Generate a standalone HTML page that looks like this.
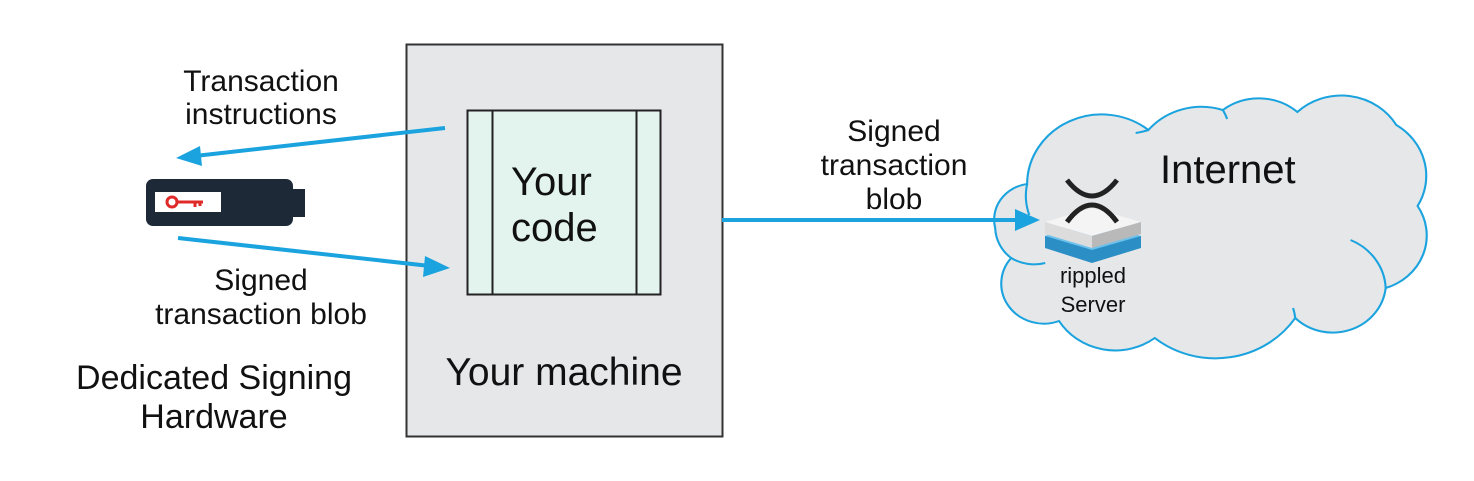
<!DOCTYPE html>
<html><head><meta charset="utf-8"><style>
html,body{margin:0;padding:0;background:#fff;}
svg{display:block;font-family:"Liberation Sans",sans-serif;}
</style></head><body>
<svg width="1474" height="481" viewBox="0 0 1474 481" xmlns="http://www.w3.org/2000/svg">
<!-- machine -->
<rect x="406.5" y="44.5" width="316" height="392" fill="#e6e7e9" stroke="#333" stroke-width="2"/>
<rect x="467.5" y="110.5" width="193" height="184" fill="#e3f4ee" stroke="#222" stroke-width="2"/>
<line x1="492.5" y1="110" x2="492.5" y2="294" stroke="#222" stroke-width="2"/>
<line x1="636.5" y1="110" x2="636.5" y2="294" stroke="#222" stroke-width="2"/>
<text x="511" y="195" font-size="40" fill="#111">Your</text>
<text x="511" y="241" font-size="40" fill="#111">code</text>
<text x="564" y="385" font-size="39" fill="#111" text-anchor="middle">Your machine</text>
<!-- cloud -->
<g transform="translate(-72,-12) scale(1.064,1)">
<path d="M1033,196 A36,36 0 0 0 1003,240 A40,40 0 0 0 1018,270 A40,40 0 0 0 1063,333 A62,62 0 0 0 1153,350 A90,90 0 0 0 1285,330 A50,50 0 0 0 1370,300 A55,55 0 0 0 1400,218 A60,60 0 0 0 1380,137 A60,60 0 0 0 1287,124 A55,55 0 0 0 1217,122 A65,65 0 0 0 1147,142 A70,70 0 0 0 1033,196 Z" fill="#e6e7e9" stroke="#1aa3de" stroke-width="2"/>
<path d="M1033,196 A60,60 0 0 0 1035,227" fill="none" stroke="#1aa3de" stroke-width="2"/>
<path d="M1018,270 A40,40 0 0 0 1050,275" fill="none" stroke="#1aa3de" stroke-width="2"/>
<path d="M1147,142 A60,60 0 0 1 1135,145" fill="none" stroke="#1aa3de" stroke-width="2"/>
<path d="M1217,122 A55,55 0 0 1 1221,131" fill="none" stroke="#1aa3de" stroke-width="2"/>
<path d="M1337,252 A55,55 0 0 1 1370,300" fill="none" stroke="#1aa3de" stroke-width="2"/>
<path d="M1285,330 A60,60 0 0 0 1283,320" fill="none" stroke="#1aa3de" stroke-width="2"/>
</g>
<text x="1160" y="183" font-size="40" fill="#111">Internet</text>
<!-- rippled icon -->
<polygon points="1045,236 1092,222 1141,236 1141,248 1092,263 1045,248" fill="#2b8ec4"/>
<polygon points="1045,236 1092,222 1141,236 1092,250" fill="#6cc2ec"/>
<polygon points="1045,222 1092,208 1141,222 1092,236" fill="#f4f4f4"/>
<polygon points="1045,222 1092,236 1092,248 1045,234" fill="#dcdcdc"/>
<polygon points="1141,222 1092,236 1092,248 1141,234" fill="#b9b9b9"/>
<path d="M1067,180 Q1092,212 1117,180 M1067,222 Q1092,188 1117,222" fill="none" stroke="#222" stroke-width="5"/>
<text x="1093" y="283" font-size="22" fill="#111" text-anchor="middle">rippled</text>
<text x="1093" y="312" font-size="22" fill="#111" text-anchor="middle">Server</text>
<!-- arrows -->
<line x1="445" y1="128" x2="195" y2="156" stroke="#1aa3de" stroke-width="4"/>
<polygon points="176,158 200,146 202,166" fill="#1aa3de"/>
<line x1="178" y1="238" x2="430" y2="266" stroke="#1aa3de" stroke-width="4"/>
<polygon points="450,268 425,256 423,277" fill="#1aa3de"/>
<line x1="722" y1="220" x2="1020" y2="220" stroke="#1aa3de" stroke-width="4"/>
<polygon points="1040,220 1015,209 1015,231" fill="#1aa3de"/>
<!-- usb -->
<rect x="146" y="179" width="147" height="47" rx="7" fill="#1e2937"/>
<rect x="290" y="189" width="15" height="28" fill="#1e2937"/>
<rect x="155" y="192" width="66" height="20" fill="#fff"/>
<circle cx="172" cy="202" r="5" fill="none" stroke="#e02a2a" stroke-width="3"/>
<path d="M177,202 H203 M195,202 V207 M200,202 V206" stroke="#e02a2a" stroke-width="3" fill="none"/>
<!-- labels -->
<text x="261" y="91" font-size="30" fill="#111" text-anchor="middle">Transaction</text>
<text x="261" y="124" font-size="30" fill="#111" text-anchor="middle">instructions</text>
<text x="261" y="290" font-size="30" fill="#111" text-anchor="middle">Signed</text>
<text x="261" y="324" font-size="30" fill="#111" text-anchor="middle">transaction blob</text>
<text x="214" y="389" font-size="34" fill="#111" text-anchor="middle">Dedicated Signing</text>
<text x="214" y="428" font-size="34" fill="#111" text-anchor="middle">Hardware</text>
<text x="894" y="141" font-size="30" fill="#111" text-anchor="middle">Signed</text>
<text x="894" y="175" font-size="30" fill="#111" text-anchor="middle">transaction</text>
<text x="894" y="209" font-size="30" fill="#111" text-anchor="middle">blob</text>
</svg>
</body></html>
